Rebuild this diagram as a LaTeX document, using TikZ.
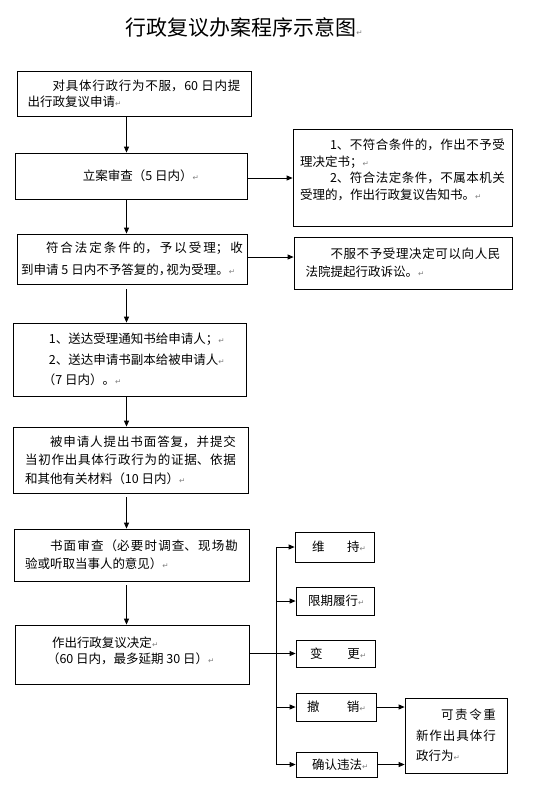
\documentclass[tikz,border=0pt]{standalone}
\usepackage{fontspec}
\newfontfamily\cjkfont{Noto Sans CJK SC}
\newfontfamily\symfont{DejaVu Sans}
\usetikzlibrary{arrows.meta}
\XeTeXlinebreaklocale "zh"
\XeTeXlinebreakskip=0pt plus 2pt
\newcommand{\boxfont}[1]{\cjkfont\fontsize{12.5}{#1}\selectfont}
\newcommand{\crmark}{{\symfont\fontsize{7.5}{7.5}\selectfont\textcolor{black!50}{↵}}}
\newcommand{\halfpunct}[1]{\makebox[0.6em][l]{#1}}

\begin{document}
\begin{tikzpicture}[x=1pt, y=-1pt,
    every node/.style={font=\boxfont{18}},
    procbox/.style={draw, line width=0.8pt, inner xsep=0pt, inner ysep=0pt, align=justify},
    resbox/.style={procbox, align=left},
    flow/.style={line width=0.8pt, -{Triangle[length=6pt,width=5pt]}}]
    \fill[white] (0,0) rectangle (558,793);
    \useasboundingbox (0,0) rectangle (558,793);

    \node[font=\cjkfont\fontsize{21}{21}\selectfont] (title) at (244,27) {行政复议办案程序示意图\crmark};

    % main column
    \node[procbox, font=\boxfont{16}, text width=213pt, minimum width=234pt, minimum height=45pt] (apply) at (134,93.5)
        {\hspace*{2em}对具体行政行为不服，60 日内提\linebreak 出行政复议申请\crmark};
    \node[procbox, text width=212pt, minimum width=232pt, minimum height=46pt] (review) at (131,176)
        {\hspace*{58pt}立案审查（5 日内）\crmark};
    \node[procbox, font=\boxfont{22}, text width=222pt, minimum width=230pt, minimum height=50pt] (accept) at (132,259)
        {\hspace*{2em}符合法定条件的，予以受理；收\linebreak 到申请\hspace{3pt}5\hspace{3pt}日内不予答复的\halfpunct{，}视为受理。\crmark};
    \node[procbox, font=\boxfont{20.5}, text width=213pt, minimum width=233pt, minimum height=73pt] (notify) at (129.5,359.5)
        {\hspace*{26pt}1、送达受理通知书给申请人；\crmark\\ \hspace*{26pt}2、送达申请书副本给被申请人\crmark\\ \hspace*{20pt}（7 日内）。\crmark};
    \node[procbox, font=\boxfont{18.5}, text width=211pt, minimum width=235pt, minimum height=66pt] (reply) at (130.5,460)
        {\hspace*{2em}被申请人提出书面答复，并提交\linebreak 当初作出具体行政行为的证据、依据\linebreak 和其他有关材料（10 日内）\crmark};
    \node[procbox, text width=213pt, minimum width=235pt, minimum height=52pt] (exam) at (131.5,555)
        {\hspace*{2em}书面审查（必要时调查、现场勘\linebreak 验或听取当事人的意见）\crmark};
    \node[procbox, font=\boxfont{16}, text width=214pt, minimum width=234pt, minimum height=59pt] (decide) at (132,654.5)
        {\hspace*{27pt}作出行政复议决定\crmark\\ \hspace*{22pt}（60 日内，最多延期 30 日）\crmark\\[-7pt] \mbox{}};

    % side boxes
    \node[procbox, font=\boxfont{16.7}, text width=205pt, minimum width=219pt, minimum height=97pt] (reject) at (402.5,177.5)
        {\hspace*{30pt}1、不符合条件的，作出不予受\linebreak 理决定书；\crmark\\ \hspace*{30pt}2、符合法定条件，不属本机关\linebreak 受理的，作出行政复议告知书。\crmark\\ \mbox{}};
    \node[procbox, text width=195pt, minimum width=218pt, minimum height=52pt] (sue) at (403,263)
        {\hspace*{2em}不服不予受理决定可以向人民\linebreak 法院提起行政诉讼。\crmark};

    % results
    \node[resbox, text width=79pt, minimum height=30pt] (keep) at (334.5,547) {\hspace*{17pt}维\hspace{1.8em}持\crmark};
    \node[resbox, text width=78pt, minimum height=28pt] (perform) at (335,601) {\hspace*{12pt}限期履行\crmark};
    \node[resbox, text width=79pt, minimum height=27pt] (alter) at (335.5,653.5) {\hspace*{14pt}变\hspace{2em}更\crmark};
    \node[resbox, text width=80pt, minimum height=28pt] (revoke) at (336,707) {\hspace*{11pt}撤\hspace{2.2em}销\crmark};
    \node[resbox, text width=81pt, minimum height=25pt] (illegal) at (336.5,764.5) {\hspace*{16pt}确认违法\crmark};
    \node[procbox, font=\boxfont{20.5}, text width=80pt, minimum width=102pt, minimum height=75pt] (redo) at (456,735.5)
        {\hspace*{2em}可责令重\linebreak 新作出具体行\linebreak 政行为\crmark};

    \coordinate (spine) at (126.5,0);
    \coordinate (fork) at (276,0);

    % connectors
    \draw[flow] (apply.south -| spine) -- (review.north -| spine);
    \draw[flow] (review.south -| spine) -- (accept.north -| spine);
    \draw[flow, shorten <=5pt] (accept.south -| spine) -- (notify.north -| spine);
    \draw[flow] (notify.south -| spine) -- (reply.north -| spine);
    \draw[flow, shorten <=4pt] (reply.south -| spine) -- (exam.north -| spine);
    \draw[flow, shorten <=4pt] (exam.south -| spine) -- (decide.north -| spine);
    \draw[flow] ([yshift=-2pt]review.east) -- ([yshift=-2pt]review.east -| reject.west);
    \draw[flow] ([yshift=2pt]accept.east) -- ([yshift=2pt]accept.east -| sue.west);
    \draw[flow] (decide.east |- alter.west) -- (alter.west);
    \draw[line width=0.8pt] (fork |- keep.west) -- (fork |- illegal.west);
    \foreach \res in {keep, perform, revoke, illegal}
        \draw[flow] (fork |- \res.west) -- (\res.west);
    \draw[flow] (revoke.east) -- (revoke.east -| redo.west);
    \draw[flow] (illegal.east) -- (illegal.east -| redo.west);
\end{tikzpicture}
\end{document}
